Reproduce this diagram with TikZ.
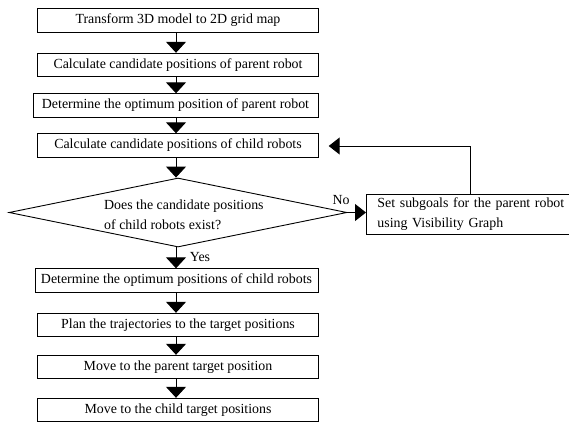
\documentclass[tikz,border=0pt]{standalone}
\usepackage{fontspec}
\setmainfont{Liberation Serif}
\usetikzlibrary{arrows.meta,shapes.geometric}
\newcommand{\fs}{\fontsize{13.9}{19.5}\selectfont}
\begin{document}
\begin{tikzpicture}[x=1pt,y=-1pt,
  box/.style={draw, line width=0.9pt, minimum height=23.5pt, inner sep=0pt, font=\fs},
  arr/.style={line width=1pt, -{Triangle[width=20pt,length=11pt]}},
  arrs/.style={line width=1pt, -{Triangle[width=17pt,length=11pt]}},
  lbl/.style={font=\fs, inner sep=0pt}]
\useasboundingbox (0,0) rectangle (569,423);
\coordinate (col) at (176,0);
\node[box, minimum width=280.5pt] (b1) at (178,20.5) {Transform 3D model to 2D grid map};
\node[box, minimum width=280.5pt] (b2) at (178,65) {Calculate candidate positions of parent robot};
\node[box, minimum width=285pt] (b3) at (175.5,105.5) {Determine the optimum position of parent robot};
\node[box, minimum width=280.5pt] (b4) at (178,145.5) {Calculate candidate positions of child robots};
\node[draw, line width=0.9pt, diamond, minimum width=338pt, minimum height=69pt, inner sep=0pt] (d) at (178,212.5) {};
\node[lbl, align=left, anchor=west] (dt) at (104,215) {Does the candidate positions\\of child robots exist?};
\node[box, anchor=west, minimum height=40pt, text width=196pt, inner xsep=11pt, align=left] (s) at (366,214) {Set subgoals for the parent robot\\using Visibility Graph};
\node[box, minimum width=283pt] (b5) at (176.5,280.5) {Determine the optimum positions of child robots};
\node[box, minimum width=280.5pt] (b6) at (178,325) {Plan the trajectories to the target positions};
\node[box, minimum width=280.5pt] (b7) at (178,367) {Move to the parent target position};
\node[box, minimum width=280.5pt] (b8) at (178,410) {Move to the child target positions};
\node[lbl] (no) at (341,200) {No};
\node[lbl] (yes) at (200,257) {Yes};
\draw[arr] (b1.south -| col) -- (b2.north -| col);
\draw[arr] (b2.south -| col) -- (b3.north -| col);
\draw[arr] (b3.south -| col) -- (b4.north -| col);
\draw[arr] (b4.south -| col) -- (d.north -| col);
\draw[arr] (d.south -| col) -- (b5.north -| col);
\draw[arr] (b5.south -| col) -- (b6.north -| col);
\draw[arr] (b6.south -| col) -- (b7.north -| col);
\draw[arr] (b7.south -| col) -- (b8.north -| col);
\draw[arrs] (d.east) -- (s.west |- d.east);
\coordinate (fb) at (470,146);
\draw[arrs, shorten >=10pt] (s.north -| fb) -- (fb) -- (b4.east |- fb);
\end{tikzpicture}
\end{document}
